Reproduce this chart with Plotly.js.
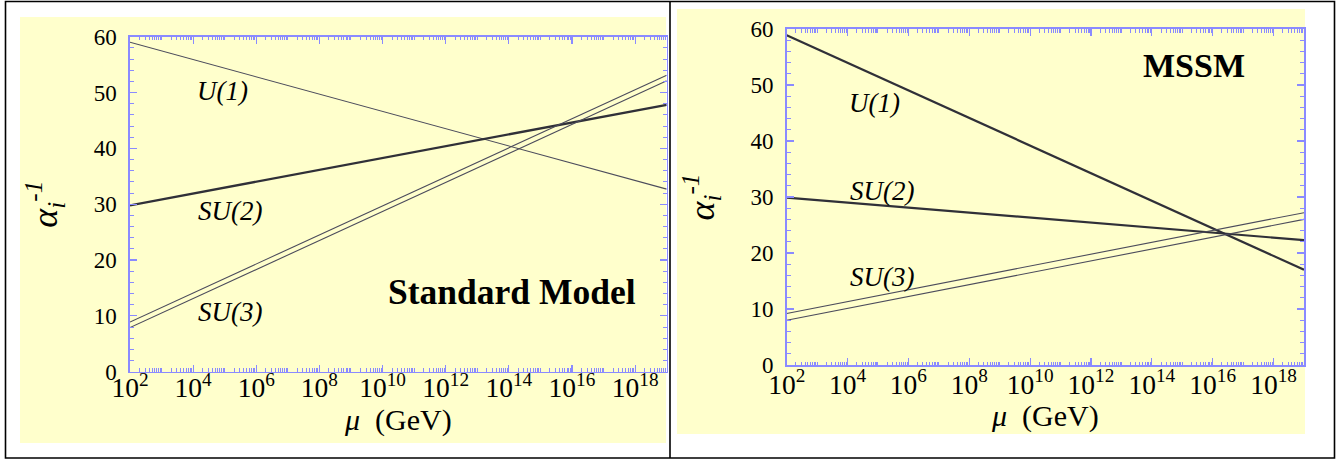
<!DOCTYPE html>
<html>
<head>
<meta charset="utf-8">
<script src="https://cdn.plot.ly/plotly-3.0.1.min.js"></script>
<style>html,body{margin:0;padding:0;background:#fff;}#chart{width:1337px;height:459px;}</style>
</head>
<body>
<div id="chart"></div>
<script>
// ---- data ----
const muGeV = [1e2, 1e19];               // energy scale endpoints (GeV)
const smU1 = [59.0, 32.7];
const smSU2 = [29.8, 47.8];
const smSU3upper = [8.9, 53.1];
const smSU3lower = [7.9, 52.1];
const mssmU1 = [58.9, 17.0];
const mssmSU2 = [29.9, 22.3];
const mssmSU3upper = [9.2, 27.2];
const mssmSU3lower = [8.0, 26.0];
const groupLabels = ['U(1)', 'SU(2)', 'SU(3)'];
const panelTitles = ['Standard Model', 'MSSM'];

// ---- layout helpers ----
const W = 1337, H = 459;
const px = x => x / W;
const py = y => 1 - y / H;
const serif = '"Liberation Serif", "Times New Roman", serif';
const axisBlue = '#8a8aff';
const thin = '#4c4c5c';
const thick = '#303038';

function line(y, xa, ya, w, c) {
  return {x: muGeV, y: y, xaxis: xa, yaxis: ya, type: 'scatter', mode: 'lines',
          line: {color: c, width: w}, hoverinfo: 'skip', showlegend: false};
}

const traces = [
  line(smU1, 'x', 'y', 1.1, thin),
  line(smSU2, 'x', 'y', 2.3, thick),
  line(smSU3upper, 'x', 'y', 1.1, thin),
  line(smSU3lower, 'x', 'y', 1.1, thin),
  line(mssmU1, 'x2', 'y2', 2.2, thick),
  line(mssmSU2, 'x2', 'y2', 2.2, thick),
  line(mssmSU3upper, 'x2', 'y2', 1.1, thin),
  line(mssmSU3lower, 'x2', 'y2', 1.1, thin)
];

function xAxis(domain, anchor, standoff, tstand) {
  return {
    domain: domain, anchor: anchor, type: 'log', range: [2, 19],
    tickmode: 'linear', tick0: 2, dtick: 2, exponentformat: 'power',
    ticks: 'inside', ticklen: 7, tickwidth: 1.2, tickcolor: axisBlue,
    minor: {dtick: 'D1', ticks: 'inside', ticklen: 3.5, tickwidth: 1, tickcolor: axisBlue},
    showline: true, linecolor: axisBlue, linewidth: 1.6, mirror: 'allticks',
    showgrid: false, zeroline: false, ticklabelstandoff: standoff,
    tickfont: {family: serif, size: 22, color: '#000'},
    title: {text: '<i>μ</i>  (GeV)', font: {family: serif, size: 30, color: '#000'}, standoff: tstand},
    fixedrange: true
  };
}
function yAxis(domain, anchor) {
  return {
    domain: domain, anchor: anchor, range: [0, 60],
    tickmode: 'linear', tick0: 0, dtick: 10,
    ticks: 'inside', ticklen: 7, tickwidth: 1.2, tickcolor: axisBlue,
    minor: {dtick: 2, ticks: 'inside', ticklen: 4, tickwidth: 1, tickcolor: axisBlue},
    showline: true, linecolor: axisBlue, linewidth: 1.6, mirror: 'allticks',
    showgrid: false, zeroline: false, ticklabelstandoff: 7,
    tickfont: {family: serif, size: 23, color: '#000'},
    title: {text: '<i>α</i><sub><i>i</i></sub><sup><i>-1</i></sup>', font: {family: serif, size: 36, color: '#000'}, standoff: 25},
    fixedrange: true
  };
}

function ann(text, x, y, size) {
  return {text: text, x: px(x), y: py(y), xref: 'paper', yref: 'paper',
          xanchor: 'center', yanchor: 'middle', showarrow: false,
          font: {family: serif, size: size, color: '#000'}};
}

const annotations = [
  ann('<i>' + groupLabels[0] + '</i>', 222, 91, 27),
  ann('<i>' + groupLabels[1] + '</i>', 230, 211, 27),
  ann('<i>' + groupLabels[2] + '</i>', 230, 312, 27),
  ann('<b>' + panelTitles[0] + '</b>', 512, 292, 35.5),
  ann('<i>' + groupLabels[0] + '</i>', 874, 103, 27),
  ann('<i>' + groupLabels[1] + '</i>', 882, 191, 27),
  ann('<i>' + groupLabels[2] + '</i>', 882, 277, 27),
  ann('<b>' + panelTitles[1] + '</b>', 1194, 66, 34)
];

const bgYellow = '#ffffcc';
const shapes = [
  {type: 'rect', xref: 'paper', yref: 'paper', x0: px(20), x1: px(666), y0: py(443), y1: py(17),
   fillcolor: bgYellow, line: {width: 0}, layer: 'below'},
  {type: 'rect', xref: 'paper', yref: 'paper', x0: px(677), x1: px(1305), y0: py(434), y1: py(9),
   fillcolor: bgYellow, line: {width: 0}, layer: 'below'},
  {type: 'rect', xref: 'paper', yref: 'paper', x0: px(5.5), x1: px(1334.5), y0: py(458), y1: py(1.5),
   fillcolor: 'rgba(0,0,0,0)', line: {color: '#000', width: 1.6}, layer: 'below'},
  {type: 'line', xref: 'paper', yref: 'paper', x0: px(670), x1: px(670), y0: py(458), y1: py(1.5),
   line: {color: '#000', width: 1.6}, layer: 'below'}
];

const layout = {
  width: W, height: H, autosize: false,
  margin: {l: 0, r: 0, t: 0, b: 0, pad: 0},
  paper_bgcolor: '#ffffff', plot_bgcolor: 'rgba(0,0,0,0)',
  showlegend: false,
  xaxis: xAxis([px(130), px(666.7)], 'y', -8, 0),
  yaxis: yAxis([py(371.7), py(36.7)], 'x'),
  xaxis2: xAxis([px(786.7), px(1304)], 'y2', -5, 0),
  yaxis2: yAxis([py(365), py(29)], 'x2'),
  annotations: annotations,
  shapes: shapes
};

Plotly.newPlot('chart', traces, layout, {displayModeBar: false, staticPlot: true});
</script>
</body>
</html>
